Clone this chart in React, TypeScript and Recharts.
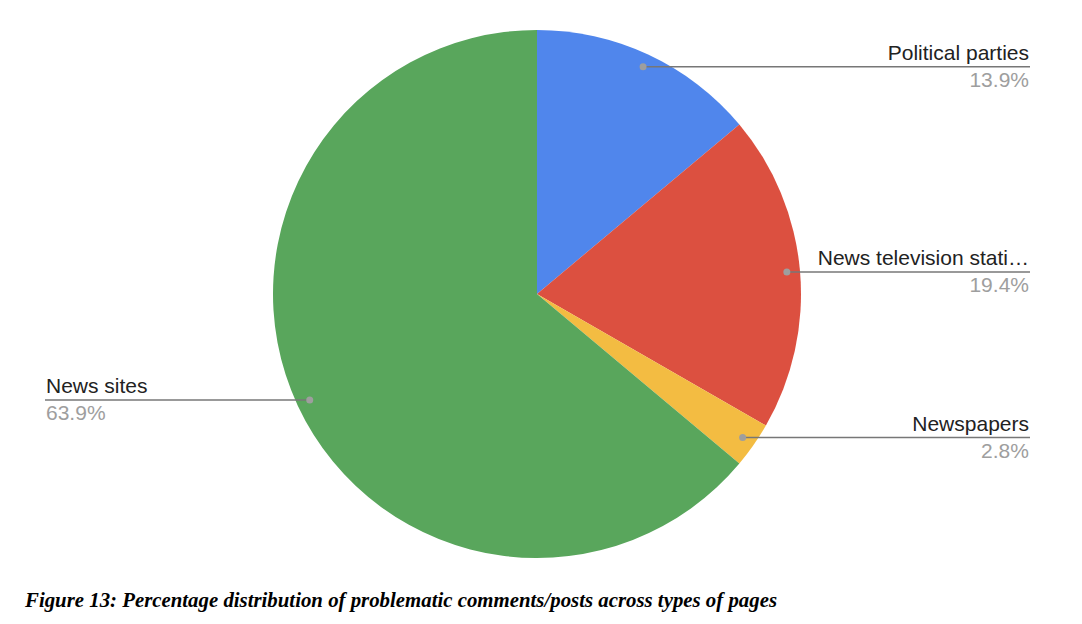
import { Pie, PieChart, Cell } from "recharts";

const categories = ["Political parties", "News television stati…", "Newspapers", "News sites"];
const shares = [13.9, 19.4, 2.8, 63.9];
const colors = ["#5086ec", "#dc5040", "#f3bc42", "#59a65c"];

const data = categories.map((name, i) => ({ name, value: shares[i] }));

const RAD = Math.PI / 180;

function renderLabel(props: any) {
  const { cx, cy, midAngle, outerRadius, name, value } = props;
  const r = outerRadius * 0.95;
  const x = cx + r * Math.cos(-midAngle * RAD);
  const y = cy + r * Math.sin(-midAngle * RAD);
  const right = x >= cx;
  const endX = right ? 1030 : 45;
  return (
    <g>
      <line x1={x} y1={y} x2={endX} y2={y} stroke="#777" strokeWidth={1.5} />
      <circle cx={x} cy={y} r={3.5} fill="#9e9e9e" />
      <text
        x={right ? endX - 1 : endX + 1}
        y={y - 7}
        textAnchor={right ? "end" : "start"}
        fontSize={21}
        fill="#222"
        fontFamily="'Liberation Sans', Arial, sans-serif"
      >
        {name}
      </text>
      <text
        x={right ? endX - 1 : endX + 1}
        y={y + 20}
        textAnchor={right ? "end" : "start"}
        fontSize={21}
        fill="#9e9e9e"
        fontFamily="'Liberation Sans', Arial, sans-serif"
      >
        {value.toFixed(1)}%
      </text>
    </g>
  );
}

export default function App() {
  return (
    <div style={{ position: "absolute", left: 0, top: 0, width: 1082, height: 624, background: "#fff" }}>
      <PieChart width={1082} height={624} margin={{ top: 0, right: 0, bottom: 0, left: 0 }}>
        <Pie
          data={data}
          dataKey="value"
          nameKey="name"
          cx={537}
          cy={294}
          outerRadius={264}
          startAngle={90}
          endAngle={-270}
          stroke="none"
          label={renderLabel}
          labelLine={false}
          isAnimationActive={false}
        >
          {data.map((d, i) => (
            <Cell key={d.name} fill={colors[i]} />
          ))}
        </Pie>
        <text
          x={25}
          y={607}
          fontSize={22}
          fontWeight="bold"
          fontStyle="italic"
          fontFamily="'Liberation Serif', 'Times New Roman', serif"
          fill="#000"
          textLength={752}
          lengthAdjust="spacingAndGlyphs"
        >
          Figure 13: Percentage distribution of problematic comments/posts across types of pages
        </text>
      </PieChart>
    </div>
  );
}
